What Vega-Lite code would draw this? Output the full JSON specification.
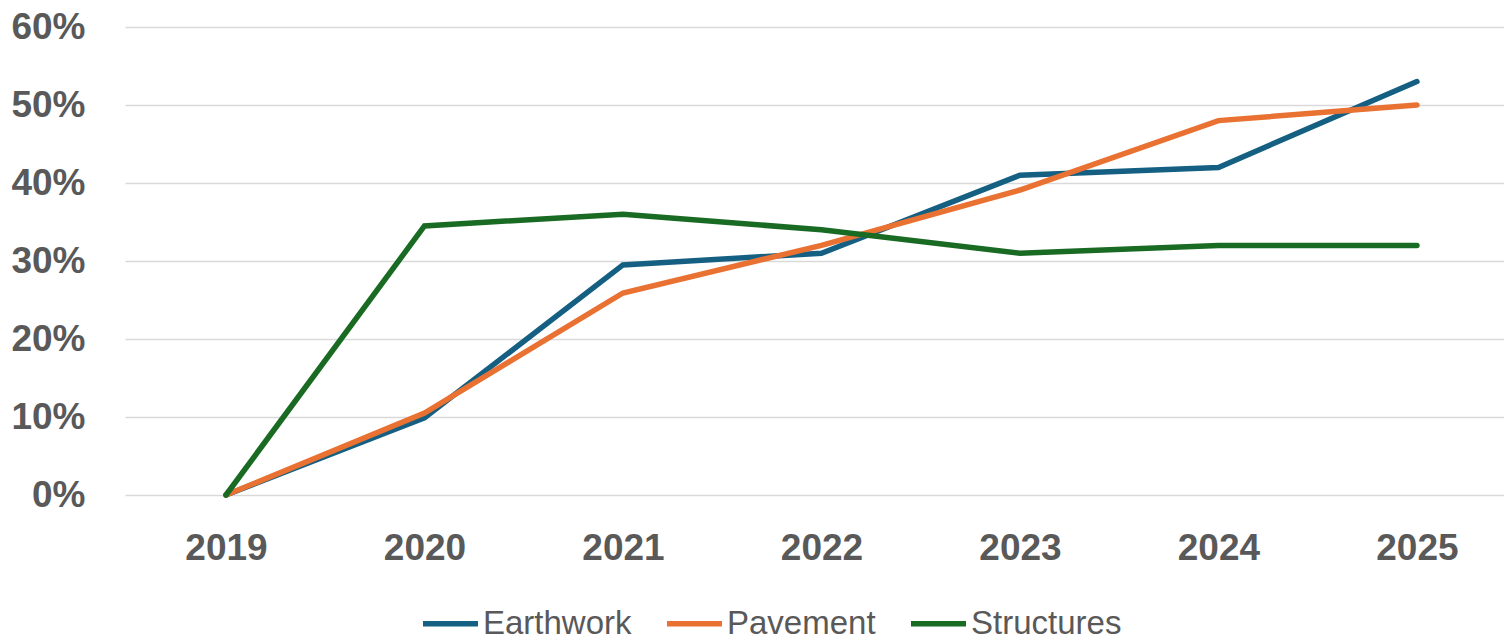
{
  "$schema": "https://vega.github.io/schema/vega-lite/v6.json",
  "autosize": {"type": "none"},
  "width": 1379,
  "height": 468,
  "padding": {"left": 125, "top": 27, "right": 0, "bottom": 141},
  "background": "white",
  "config": {
    "view": {"stroke": null},
    "font": "Liberation Sans"
  },
  "data": {
    "values": [
      {"year": "2019", "series": "Earthwork", "pct": 0},
      {"year": "2020", "series": "Earthwork", "pct": 0.099},
      {"year": "2021", "series": "Earthwork", "pct": 0.295},
      {"year": "2022", "series": "Earthwork", "pct": 0.31},
      {"year": "2023", "series": "Earthwork", "pct": 0.41},
      {"year": "2024", "series": "Earthwork", "pct": 0.42},
      {"year": "2025", "series": "Earthwork", "pct": 0.53},
      {"year": "2019", "series": "Pavement", "pct": 0},
      {"year": "2020", "series": "Pavement", "pct": 0.105},
      {"year": "2021", "series": "Pavement", "pct": 0.259},
      {"year": "2022", "series": "Pavement", "pct": 0.32},
      {"year": "2023", "series": "Pavement", "pct": 0.391},
      {"year": "2024", "series": "Pavement", "pct": 0.48},
      {"year": "2025", "series": "Pavement", "pct": 0.50},
      {"year": "2019", "series": "Structures", "pct": 0},
      {"year": "2020", "series": "Structures", "pct": 0.345},
      {"year": "2021", "series": "Structures", "pct": 0.36},
      {"year": "2022", "series": "Structures", "pct": 0.34},
      {"year": "2023", "series": "Structures", "pct": 0.31},
      {"year": "2024", "series": "Structures", "pct": 0.32},
      {"year": "2025", "series": "Structures", "pct": 0.32}
    ]
  },
  "mark": {"type": "line", "strokeWidth": 5.5, "strokeCap": "round", "strokeJoin": "miter"},
  "encoding": {
    "x": {
      "field": "year",
      "type": "ordinal",
      "scale": {"type": "point", "padding": 0.4736, "align": 0.537},
      "axis": {
        "title": null,
        "domain": false,
        "ticks": false,
        "grid": false,
        "labelAngle": 0,
        "labelFont": "Liberation Sans",
        "labelFontSize": 37,
        "labelFontWeight": "bold",
        "labelColor": "#595959",
        "labelPadding": 35
      }
    },
    "y": {
      "field": "pct",
      "type": "quantitative",
      "scale": {"domain": [0, 0.6], "nice": false},
      "axis": {
        "title": null,
        "values": [0, 0.1, 0.2, 0.3, 0.4, 0.5, 0.6],
        "format": ".0%",
        "domain": false,
        "ticks": false,
        "gridColor": "#D9D9D9",
        "gridWidth": 1.5,
        "labelFont": "Liberation Sans",
        "labelFontSize": 37,
        "labelFontWeight": "bold",
        "labelColor": "#595959",
        "labelPadding": 40
      }
    },
    "color": {
      "field": "series",
      "type": "nominal",
      "scale": {
        "domain": ["Earthwork", "Pavement", "Structures"],
        "range": ["#156082", "#E97132", "#196B24"]
      },
      "legend": {
        "title": null,
        "orient": "none",
        "legendX": 295,
        "legendY": 566,
        "direction": "horizontal",
        "columns": 3,
        "columnPadding": 24,
        "symbolType": "stroke",
        "symbolSize": 3025,
        "symbolStrokeWidth": 5.5,
        "labelFont": "Liberation Sans",
        "labelFontSize": 33,
        "labelColor": "#595959",
        "labelOffset": 2,
        "labelLimit": 300
      }
    }
  }
}
